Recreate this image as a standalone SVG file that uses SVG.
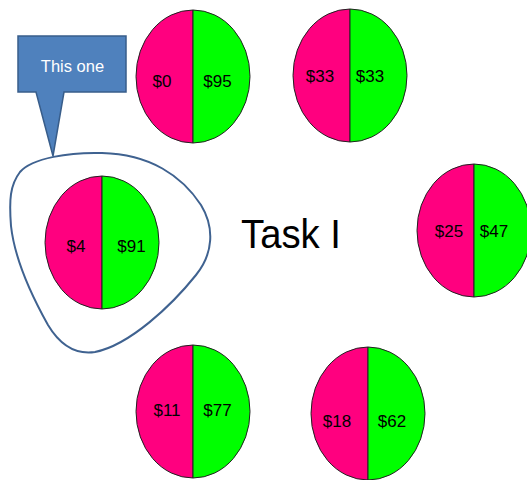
<svg xmlns="http://www.w3.org/2000/svg" width="527" height="480" viewBox="0 0 527 480">
  <style>
    .lo { fill: #FF007F; stroke: #222; stroke-width: 1; }
    .hi { fill: #00FF00; stroke: #222; stroke-width: 1; }
    .amt { font-family: "Liberation Sans", Arial, sans-serif; font-size: 17px; fill: #000; text-anchor: middle; }
    .title { font-family: "Liberation Sans", Arial, sans-serif; font-size: 41px; fill: #000; }
    .callout { fill: #4F81BD; stroke: #385D8A; stroke-width: 1.5; }
    .callout-text { font-family: "Liberation Sans", Arial, sans-serif; font-size: 16.5px; fill: #fff; text-anchor: middle; }
    .loop { fill: none; stroke: #3F6290; stroke-width: 2; }
  </style>
  <defs>
    <!-- split disc: left half / right half, centred on the origin -->
    <path id="half-left" d="M0,-66.5 A57,66.5 0 0 0 0,66.5 Z"/>
    <path id="half-right" d="M0,-66.5 A57,66.5 0 0 1 0,66.5 Z"/>
  </defs>
  <rect width="527" height="480" fill="#fff"/>

  <g id="node-0-95">
    <use href="#half-left" class="lo" transform="translate(193,76.5)"/>
    <use href="#half-right" class="hi" transform="translate(193,76.5)"/>
    <text class="amt" x="162" y="87">$0</text>
    <text class="amt" x="217.5" y="87">$95</text>
  </g>

  <g id="node-33-33">
    <use href="#half-left" class="lo" transform="translate(350,75.5)"/>
    <use href="#half-right" class="hi" transform="translate(350,75.5)"/>
    <text class="amt" x="320" y="82">$33</text>
    <text class="amt" x="370" y="82">$33</text>
  </g>

  <g id="node-25-47">
    <use href="#half-left" class="lo" transform="translate(474,230.5)"/>
    <use href="#half-right" class="hi" transform="translate(474,230.5)"/>
    <text class="amt" x="449" y="237">$25</text>
    <text class="amt" x="494" y="237">$47</text>
  </g>

  <g id="node-4-91">
    <use href="#half-left" class="lo" transform="translate(102,242.5)"/>
    <use href="#half-right" class="hi" transform="translate(102,242.5)"/>
    <text class="amt" x="76" y="252">$4</text>
    <text class="amt" x="131.5" y="252">$91</text>
  </g>

  <g id="node-11-77">
    <use href="#half-left" class="lo" transform="translate(193,411.5)"/>
    <use href="#half-right" class="hi" transform="translate(193,411.5)"/>
    <text class="amt" x="167" y="416">$11</text>
    <text class="amt" x="217.5" y="416">$77</text>
  </g>

  <g id="node-18-62">
    <use href="#half-left" class="lo" transform="translate(368,413.5)"/>
    <use href="#half-right" class="hi" transform="translate(368,413.5)"/>
    <text class="amt" x="337" y="427">$18</text>
    <text class="amt" x="392" y="427">$62</text>
  </g>

  <g id="title">
    <text class="title" x="241" y="248" textLength="100" lengthAdjust="spacingAndGlyphs">Task I</text>
  </g>

  <g id="connectors">
    <!-- hand-drawn loop around the selected disc -->
    <path class="loop" d="M20,172 C32,158 70,152 102,153 C150,154 182,176 201,205 C215,228 213,254 196,275 C172,305 130,345 95,352 C75,355 60,345 48,325 C34,300 15,262 11,226 C9,200 10,185 20,172 Z"/>
  </g>

  <g id="callout-this-one">
    <path class="callout" d="M18,36 H126 V92 H64 L53,156 L36,92 H18 Z"/>
    <text class="callout-text" x="72.5" y="72">This one</text>
  </g>
</svg>
